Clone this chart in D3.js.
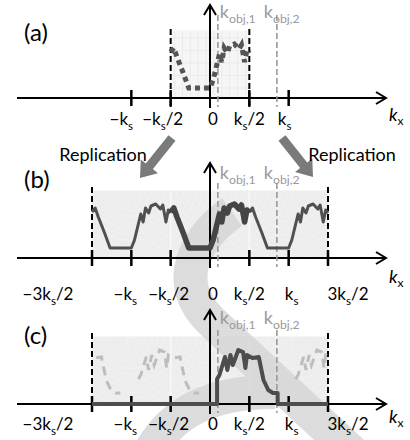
<!DOCTYPE html>
<html>
<head>
<meta charset="utf-8">
<script src="https://cdn.jsdelivr.net/npm/d3@7"></script>
<style>
  html, body { margin: 0; padding: 0; background: #fff; }
  svg { display: block; font-family: Lato, "Open Sans", sans-serif; }
</style>
</head>
<body>
<div id="chart"></div>
<script>
// spectrum after sampling, one period (k in units of ks, amplitude relative)
const baseSpectrum = [
  [-0.5, 0.92], [-0.46, 1.0], [-0.42, 0.82], [-0.34, 0.5], [-0.27, 0.2],
  [0.0, 0.2], [0.04, 0.36], [0.12, 0.88], [0.15, 0.72], [0.18, 1.0],
  [0.22, 0.9], [0.25, 1.04], [0.31, 1.08], [0.37, 0.98], [0.4, 1.06],
  [0.44, 0.72], [0.47, 0.96], [0.5, 0.9]
];
// object spectrum between kobj,1 and kobj,2
const objSpectrum = [
  [0.09, 0.5], [0.12, 0.58], [0.19, 0.94], [0.22, 0.68], [0.26, 0.98],
  [0.29, 0.78], [0.36, 1.08], [0.42, 1.04], [0.45, 0.72], [0.47, 0.98],
  [0.54, 0.92], [0.62, 0.94], [0.68, 0.48], [0.74, 0.28], [0.8, 0.22],
  [0.86, 0.22]
];
const objEdges = [0.09, 0.86];
const kobj = [0.1, 0.85];
const kobjNames = ["obj,1", "obj,2"];
const replicaShiftsB = [-1, 1];
const replicaShiftsC = [-2, -1, 1];

const ticksA = [-1, -0.5, 0, 0.5, 1];
const ticksBC = [-1.5, -1, -0.5, 0, 0.5, 1, 1.5];
const tickText = {
  "-1.5": ["−3k", "s", "/2"], "-1": ["−k", "s", ""], "-0.5": ["−k", "s", "/2"],
  "0": ["0", "", ""], "0.5": ["k", "s", "/2"], "1": ["k", "s", ""], "1.5": ["3k", "s", "/2"]
};

const W = 410, H = 440;
const svg = d3.select("#chart").append("svg").attr("width", W).attr("height", H);

const x = d3.scaleLinear().domain([-1.5, 1.5]).range([92, 328]);

const panels = [
  { name: "(a)", y0: 98, labY: 41, tickY: 125, kxY: 121, axTop: 5, dashTop: 29, kobjTop: 15, kobjY: 18,
    dashAt: [-0.5, 0.5], ticks: ticksA, bgSpan: [-0.5, 0.5],
    dx: { "-1": -10, "-0.5": -8, "0": 3, "0.5": 0, "1": -4 } },
  { name: "(b)", y0: 258, labY: 188, tickY: 300, kxY: 283, axTop: 163, dashTop: 187, kobjTop: 183, kobjY: 179,
    dashAt: [-1.5, 1.5], ticks: ticksBC, bgSpan: [-1.5, 1.5],
    dx: { "-1.5": -44, "-1": -6, "-0.5": -2, "0": 3, "0.5": 0, "1": 3, "1.5": 20 } },
  { name: "(c)", y0: 404, labY: 344, tickY: 430, kxY: 423, axTop: 310, dashTop: 333, kobjTop: 330, kobjY: 324,
    dashAt: [-1.5, 1.5], ticks: ticksBC, bgSpan: [-1.5, 1.5],
    dx: { "-1.5": -44, "-1": -6, "-0.5": -2, "0": 3, "0.5": 0, "1": 3, "1.5": 20 } }
];

function richText(g, px, py, parts, size, anchor, subScale) {
  const sc = subScale || 0.68;
  const t = g.append("text").attr("x", px).attr("y", py)
    .attr("font-size", size).attr("text-anchor", anchor || "middle");
  t.append("tspan").text(parts[0]);
  if (parts[1]) t.append("tspan").attr("dy", size * 0.28).attr("font-size", size * sc).text(parts[1]);
  if (parts[2]) t.append("tspan").attr("dy", parts[1] ? -size * 0.28 : 0).text(parts[2]);
  return t;
}

const defs = svg.append("defs");

// backgrounds (faint textured panels)
panels.forEach((p, i) => {
  const y = d3.scaleLinear().domain([0, 1]).range([p.y0, p.y0 - 50]);
  const g = svg.append("g");
  const x0 = x(p.bgSpan[0]), x1 = x(p.bgSpan[1]), yT = y(1.35);
  defs.append("clipPath").attr("id", "bg" + i)
    .append("rect").attr("x", x0).attr("y", yT).attr("width", x1 - x0).attr("height", p.y0 - yT);
  g.append("rect").attr("x", x0).attr("y", yT).attr("width", x1 - x0).attr("height", p.y0 - yT)
    .attr("fill", i === 0 ? "#f6f6f6" : "#ededed");
  const tex = g.append("g").attr("clip-path", `url(#bg${i})`);
  if (i === 0) {
    d3.range(-0.45, 0.5, 0.1).forEach(v => tex.append("line")
      .attr("x1", x(v)).attr("x2", x(v)).attr("y1", yT).attr("y2", p.y0)
      .attr("stroke", "#ebebeb").attr("stroke-width", 1));
    d3.range(0.2, 1.35, 0.25).forEach(v => tex.append("line")
      .attr("x1", x0).attr("x2", x1).attr("y1", y(v)).attr("y2", y(v))
      .attr("stroke", "#ebebeb").attr("stroke-width", 1));
  } else {
    [-1, 0, 1].forEach(c => {
      d3.range(6, 90, 6).forEach(r => tex.append("circle")
        .attr("cx", x(c)).attr("cy", yT - 10).attr("r", r)
        .attr("fill", "none").attr("stroke", "#f7f7f7").attr("stroke-width", 1).attr("opacity", 0.45));
    });
    [-0.5, 0.5].forEach(v => tex.append("line")
      .attr("x1", x(v)).attr("x2", x(v)).attr("y1", yT).attr("y2", p.y0)
      .attr("stroke", "#fafafa").attr("stroke-width", 1.2));
  }
});

// watermark cross
const wm = svg.append("g").attr("fill", "none").attr("stroke", "#d6d6d6").attr("stroke-width", 34)
  .attr("opacity", 0.85);
wm.append("path").attr("d", "M232,212 C196,238 170,282 212,322 L352,452");
wm.append("path").attr("d", "M150,452 C172,412 210,392 275,392");

// axes, markers, labels
panels.forEach(p => {
  const g = svg.append("g").attr("stroke", "#000");
  const y0 = p.y0;
  g.append("line").attr("x1", 17).attr("x2", 386).attr("y1", y0).attr("y2", y0).attr("stroke-width", 2);
  g.append("path").attr("d", `M376,${y0 - 6}L386,${y0}L376,${y0 + 6}`).attr("fill", "none").attr("stroke-width", 2);
  g.append("line").attr("x1", x(0)).attr("x2", x(0)).attr("y1", y0 + 10).attr("y2", p.axTop).attr("stroke-width", 2);
  g.append("path").attr("d", `M${x(0) - 6},${p.axTop + 10}L${x(0)},${p.axTop}L${x(0) + 6},${p.axTop + 10}`)
    .attr("fill", "none").attr("stroke-width", 2);

  p.ticks.filter(t => t !== 0 && !p.dashAt.includes(t)).forEach(t =>
    g.append("line").attr("x1", x(t)).attr("x2", x(t)).attr("y1", y0 - 8).attr("y2", y0 + 8).attr("stroke-width", 2.5));
  p.dashAt.forEach(t => {
    g.append("line").attr("x1", x(t)).attr("x2", x(t)).attr("y1", p.dashTop).attr("y2", y0 + 9)
      .attr("stroke-width", 2).attr("stroke-dasharray", "6 3");
    g.append("line").attr("x1", x(t)).attr("x2", x(t)).attr("y1", y0 - 8).attr("y2", y0 + 8).attr("stroke-width", 2.5);
  });

  kobj.forEach(k => g.append("line").attr("x1", x(k)).attr("x2", x(k)).attr("y1", p.kobjTop).attr("y2", y0 + 9)
    .attr("stroke", "#9a9a9a").attr("stroke-width", 1.6).attr("stroke-dasharray", "6 3"));

  const tg = svg.append("g").attr("fill", "#000");
  p.ticks.forEach(t => richText(tg, x(t) + p.dx[String(t)], p.tickY, tickText[String(t)], 17));

  const kx = tg.append("text").attr("x", 389).attr("y", p.kxY).attr("font-size", 18);
  kx.append("tspan").attr("font-style", "italic").text("k");
  kx.append("tspan").attr("dy", 4).attr("font-size", 12).text("x");

  tg.append("text").attr("x", 24).attr("y", p.labY).attr("font-size", 24).text(p.name);

  const kg = svg.append("g").attr("fill", "#9a9a9a");
  kobj.forEach((k, j) => richText(kg, x(k) + (j === 0 ? 2 : -13), p.kobjY, ["k", kobjNames[j], ""], 18, "start", 0.68));
});

// curves
const lineOf = (y, s) => d3.line().x(d => x(d[0] + s)).y(d => y(d[1]));

panels.forEach((p, i) => {
  const y = d3.scaleLinear().domain([0, 1]).range([p.y0, p.y0 - 50]);
  const g = svg.append("g").attr("fill", "none");
  if (i === 0) {
    g.append("path").attr("d", lineOf(y, 0)(baseSpectrum))
      .attr("stroke", "#555").attr("stroke-width", 5).attr("stroke-dasharray", "5 4");
  } else if (i === 1) {
    replicaShiftsB.forEach(s => g.append("path").attr("d", lineOf(y, s)(baseSpectrum))
      .attr("stroke", "#505050").attr("stroke-width", 3).attr("stroke-linejoin", "round"));
    g.append("path").attr("d", lineOf(y, 0)(baseSpectrum))
      .attr("stroke", "#454545").attr("stroke-width", 5.5).attr("stroke-linejoin", "round");
  } else {
    const gc = g.append("g").attr("clip-path", "url(#bg2)");
    replicaShiftsC.forEach(s => gc.append("path").attr("d", lineOf(y, s)(objSpectrum))
      .attr("stroke", "#bdbdbd").attr("stroke-width", 3).attr("stroke-dasharray", "9 6"));
    const full = [[-1.5, 0], [objEdges[0], 0], ...objSpectrum, [objEdges[1], 0], [1.5, 0]];
    g.append("path").attr("d", lineOf(y, 0)(full))
      .attr("stroke", "#4d4d4d").attr("stroke-width", 4).attr("stroke-linejoin", "round");
  }
});

// replication arrows
function fatArrow(x1, y1, x2, y2) {
  const a = Math.atan2(y2 - y1, x2 - x1), L = Math.hypot(x2 - x1, y2 - y1);
  const hl = 15, sw = 4.5, hw = 11;
  const pts = [[0, -sw], [L - hl, -sw], [L - hl, -hw], [L, 0], [L - hl, hw], [L - hl, sw], [0, sw]];
  return "M" + pts.map(([u, v]) => [x1 + u * Math.cos(a) - v * Math.sin(a), y1 + u * Math.sin(a) + v * Math.cos(a)].join(",")).join("L") + "Z";
}
svg.append("path").attr("d", fatArrow(172, 138, 140, 178)).attr("fill", "#7a7a7a");
svg.append("path").attr("d", fatArrow(282, 138, 313, 177)).attr("fill", "#7a7a7a");
svg.append("text").attr("x", 103).attr("y", 161).attr("font-size", 18).attr("text-anchor", "middle").text("Replication");
svg.append("text").attr("x", 352).attr("y", 161).attr("font-size", 18).attr("text-anchor", "middle").text("Replication");
</script>
</body>
</html>
